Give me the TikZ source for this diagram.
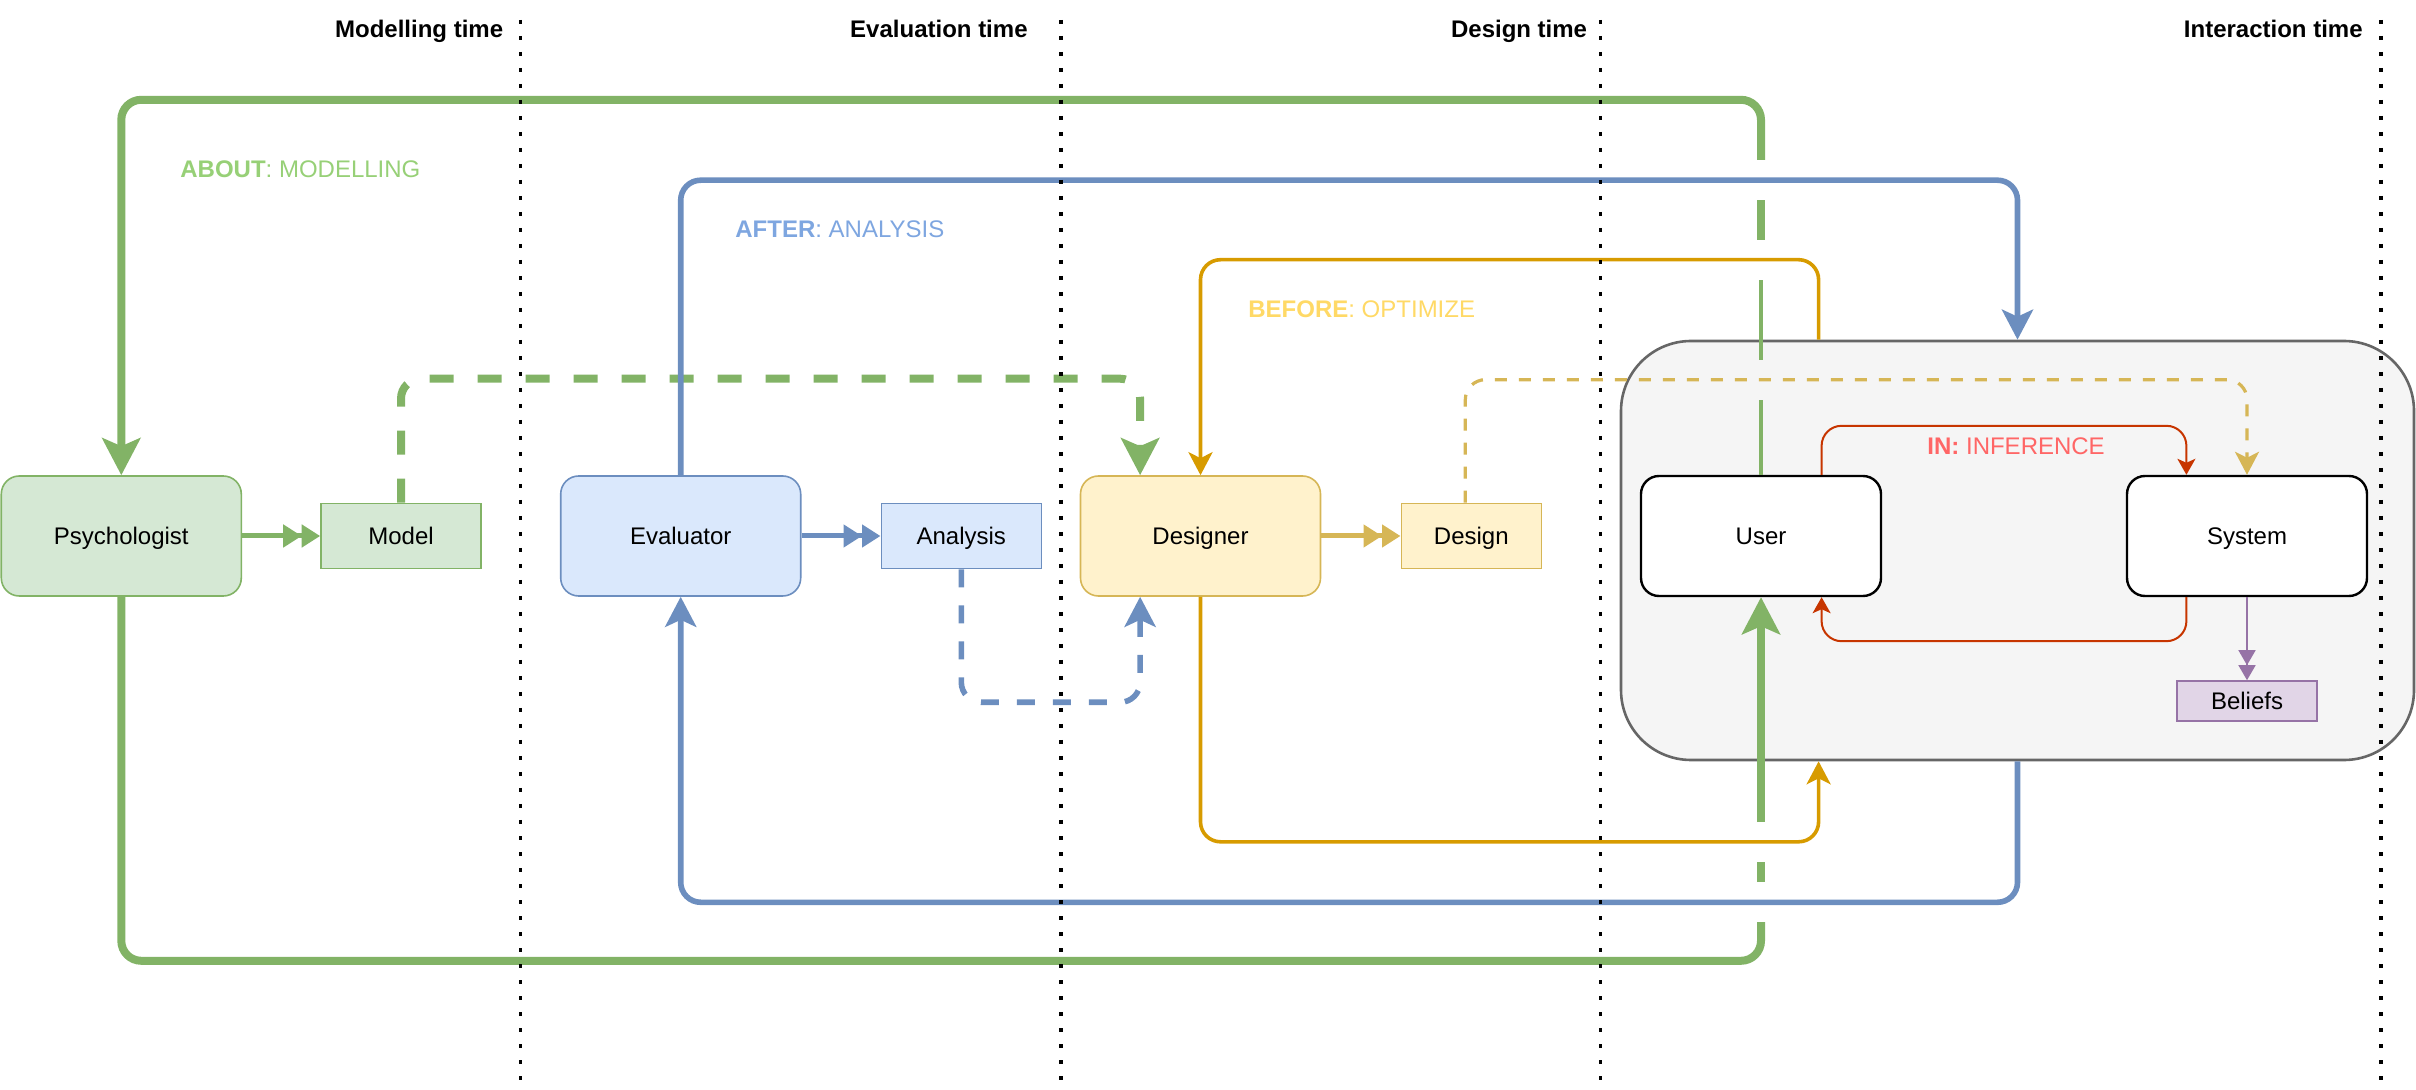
\documentclass[tikz,border=0pt]{standalone}
\usepackage{fontspec}
\setmainfont{Liberation Sans}
\usetikzlibrary{arrows.meta,calc}
\definecolor{gfill}{HTML}{D5E8D4}
\definecolor{gline}{HTML}{82B366}
\definecolor{bfill}{HTML}{DAE8FC}
\definecolor{bline}{HTML}{6C8EBF}
\definecolor{yfill}{HTML}{FFF2CC}
\definecolor{yline}{HTML}{D6B656}
\definecolor{oline}{HTML}{D79B00}
\definecolor{rline}{HTML}{C73500}
\definecolor{pfill}{HTML}{E1D5E7}
\definecolor{pline}{HTML}{9673A6}
\definecolor{envfill}{HTML}{F5F5F5}
\definecolor{envline}{HTML}{666666}
\definecolor{abouttxt}{HTML}{97D077}
\definecolor{aftertxt}{HTML}{7EA6E0}
\definecolor{beforetxt}{HTML}{FFD966}
\definecolor{intxt}{HTML}{FF6666}
\begin{document}
\begin{tikzpicture}[x=0.5pt,y=-0.5pt,font=\fontsize{12}{14}\selectfont,
	actor/.style={draw,rectangle,rounded corners=9pt,minimum width=120pt,minimum height=60pt,line width=0.8pt,text height=11pt,text depth=2pt},
	thing/.style={draw,rectangle,line width=0.8pt,minimum height=32.5pt,text height=11pt,text depth=2pt},
	conn/.style={rounded corners=10pt},
	bigtip/.style={-{Stealth[length=18.5pt,width=19pt,inset=4pt]}},
	midtip/.style={-{Stealth[length=15pt,width=15.5pt,inset=3.5pt]}},
	smalltip/.style={-{Stealth[length=11.5pt,width=12pt,inset=3pt]}},
	tinytip/.style={-{Stealth[length=8pt,width=9pt,inset=2pt]}},
	dbl/.style={line width=2.5pt,-{Triangle[length=9.25pt,width=11pt]Triangle[length=9.25pt,width=11pt]}},
	tag/.style={anchor=base west,inner sep=0pt},
	timetag/.style={anchor=base east,inner sep=0pt,font=\fontsize{12}{14}\selectfont\bfseries},
	timeline/.style={line width=1.65pt,dash pattern=on 2pt off 6pt}]
			\useasboundingbox (0,0) rectangle (2416,1090);
			\node[draw=envline,fill=envfill,line width=1.3pt,rounded corners=35pt,minimum width=396.5pt,minimum height=209.5pt] (env)at(2017.5,550.5) {};
			\node[actor,draw=gline,fill=gfill] (psych)at(121.3,536) {Psychologist};
			\node[thing,draw=gline,fill=gfill,minimum width=80pt] (model)at(401,536) {Model};
			\node[actor,draw=bline,fill=bfill] (evaluator)at(680.7,536) {Evaluator};
			\node[thing,draw=bline,fill=bfill,minimum width=80pt] (analysis)at(961.3,536) {Analysis};
			\node[actor,draw=yline,fill=yfill] (designer)at(1200.5,536) {Designer};
			\node[thing,draw=yline,fill=yfill,minimum width=70pt] (design)at(1471.3,536) {Design};
			\node[actor,draw=black,fill=white,line width=1.2pt] (user)at(1761,536) {User};
			\node[actor,draw=black,fill=white,line width=1.2pt] (system)at(2247,536) {System};
			\node[thing,draw=pline,fill=pfill,minimum width=70pt,minimum height=20pt] (beliefs)at(2247,701) {Beliefs};
			\draw[dbl,gline] (psych) -- (model);
			\draw[dbl,bline] (evaluator) -- (analysis);
			\draw[dbl,yline] (designer) -- (design);
			\draw[pline,line width=0.8pt,-{Triangle[length=7.5pt,width=8.5pt]Triangle[length=7.5pt,width=8.5pt]}] (system) -- (beliefs);
			% about: modelling
			\draw[gline,line width=4pt,conn,bigtip] ($(user.north)+(0,-315)$) -- ++(0,-60) -| (psych.north);
			\draw[gline,line width=4pt] ($(user.north)+(0,-235)$) -- ++(0,-40);
			\draw[gline,line width=2pt] ($(user.north)+(0,-115)$) -- ++(0,-80);
			\draw[gline,line width=2pt] (user.north) -- ++(0,-75);
			\draw[gline,line width=4pt,conn] (psych.south) -- ++(0,364) -| ($(user.south)+(0,325)$);
			\draw[gline,line width=4pt] ($(user.south)+(0,285)$) -- ++(0,-20);
			\draw[gline,line width=4pt,bigtip] ($(user.south)+(0,225)$) -- (user.south);
			\draw[gline,line width=4pt,conn,dash pattern=on 12pt off 12pt,bigtip] (model.north) -- ++(0,-124) -| ($(designer.north west)!0.25!(designer.north east)$);
			% after: analysis
			\draw[bline,line width=2.8pt,conn,midtip] (evaluator.north) -- ++(0,-295) -| (env.north);
			\draw[bline,line width=2.8pt,conn,midtip] (env.south) -- ++(0,141) -| (evaluator.south);
			\draw[bline,line width=2.8pt,conn,dash pattern=on 9pt off 9pt,midtip] (analysis.south) -- ++(0,133) -| ($(designer.south west)!0.25!(designer.south east)$);
			% before: optimize
			\draw[oline,line width=1.8pt,conn,smalltip] ($(env.north west)!0.25!(env.north east)$) -- ++(0,-80) -| (designer.north);
			\draw[oline,line width=1.8pt,conn,smalltip] (designer.south) -- ++(0,245) -| ($(env.south west)!0.25!(env.south east)$);
			\draw[yline,line width=1.6pt,conn,dash pattern=on 6pt off 6pt,smalltip] ([xshift=-3pt]design.north) -- ++(0,-123) -| (system.north);
			% in: inference
			\draw[rline,line width=1pt,conn,tinytip] ($(user.north west)!0.75!(user.north east)$) -- ++(0,-49) -| ($(system.north west)!0.25!(system.north east)$);
			\draw[rline,line width=1pt,conn,tinytip] ($(system.south west)!0.25!(system.south east)$) -- ++(0,44) -| ($(user.south west)!0.75!(user.south east)$);
			\node[tag,text=abouttxt] (about)at(180,178) {\textbf{ABOUT}: MODELLING};
			\node[tag,text=aftertxt] (after)at(735,238) {\textbf{AFTER}: ANALYSIS};
			\node[tag,text=beforetxt] (before)at(1248,317.6) {\textbf{BEFORE}: OPTIMIZE};
			\node[tag,text=intxt] (infer)at(1927,454.3) {\textbf{IN:} INFERENCE};
			% time lines
			\draw[timeline] (520.5,20) -- (520.5,1082);
			\draw[timeline] (1061,20) -- (1061,1082);
			\draw[timeline] (1600.5,20) -- (1600.5,1082);
			\draw[timeline] (2381,20) -- (2381,1082);
			\node[timetag] (tmodel)at(503.5,37.5) {Modelling time};
			\node[timetag] (teval)at(1028,37.5) {Evaluation time};
			\node[timetag] (tdesign)at(1587.5,37.5) {Design time};
			\node[timetag] (tinter)at(2363,37.5) {Interaction time};
		\end{tikzpicture}
\end{document}
